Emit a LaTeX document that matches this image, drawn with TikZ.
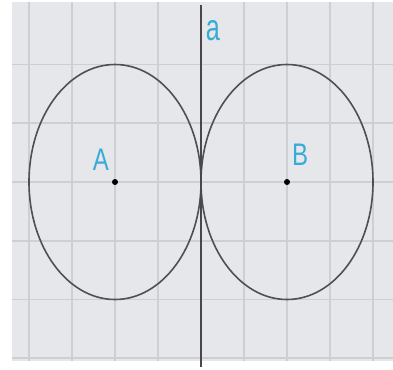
\documentclass[tikz,border=0pt]{standalone}
\usepackage{fontspec}
\setmainfont{Liberation Sans}
\definecolor{bgc}{RGB}{230,231,235}
\definecolor{gridc}{RGB}{206,207,211}
\definecolor{linec}{RGB}{80,80,84}
\definecolor{labc}{RGB}{58,170,217}
\tikzset{
  gridline/.style={draw=gridc, line width=1.8pt},
  circ/.style={draw=linec, line width=1.6pt},
  axisline/.style={draw=linec!90!black, line width=1.5pt},
  lab/.style={text=labc, font=\fontsize{24}{27}\selectfont, inner sep=0pt},
  pt/.style={circle, fill=black, inner sep=0pt, minimum size=6pt}
}
\begin{document}
\begin{tikzpicture}[x=1pt,y=-1pt]
\useasboundingbox (0,0) rectangle (393,369);
\fill[white] (0,0) rectangle (393,369);
\fill[bgc] (12,2) rectangle (393,361);
% grid
\foreach \gx in {29,72,115,158,244,287,330,373}
  \draw[gridline] (\gx,2) -- (\gx,361);
\foreach \gy in {64.5,123.3,182,240.7,299.4,358}
  \draw[gridline] (12,\gy) -- (393,\gy);
% centres
\coordinate (A) at (115,182);
\coordinate (B) at (287,182);
% circles
\draw[circ] (A) ellipse [x radius=86, y radius=117.5];
\draw[circ] (B) ellipse [x radius=86, y radius=117.5];
% line a
\coordinate (atop) at (201,5);
\coordinate (abot) at (201,367);
\draw[axisline] (atop) -- (abot);
% points
\node[pt] (pA) at (A) {};
\node[pt] (pB) at (B) {};
% labels
\node[lab] (labA) at (101,160) {\scalebox{1}[1.3]{A}};
\node[lab] (labB) at (300,155) {\scalebox{1}[1.3]{B}};
\node[lab] (laba) at (213,31) {\scalebox{1.05}[1.55]{a}};
\end{tikzpicture}
\end{document}
